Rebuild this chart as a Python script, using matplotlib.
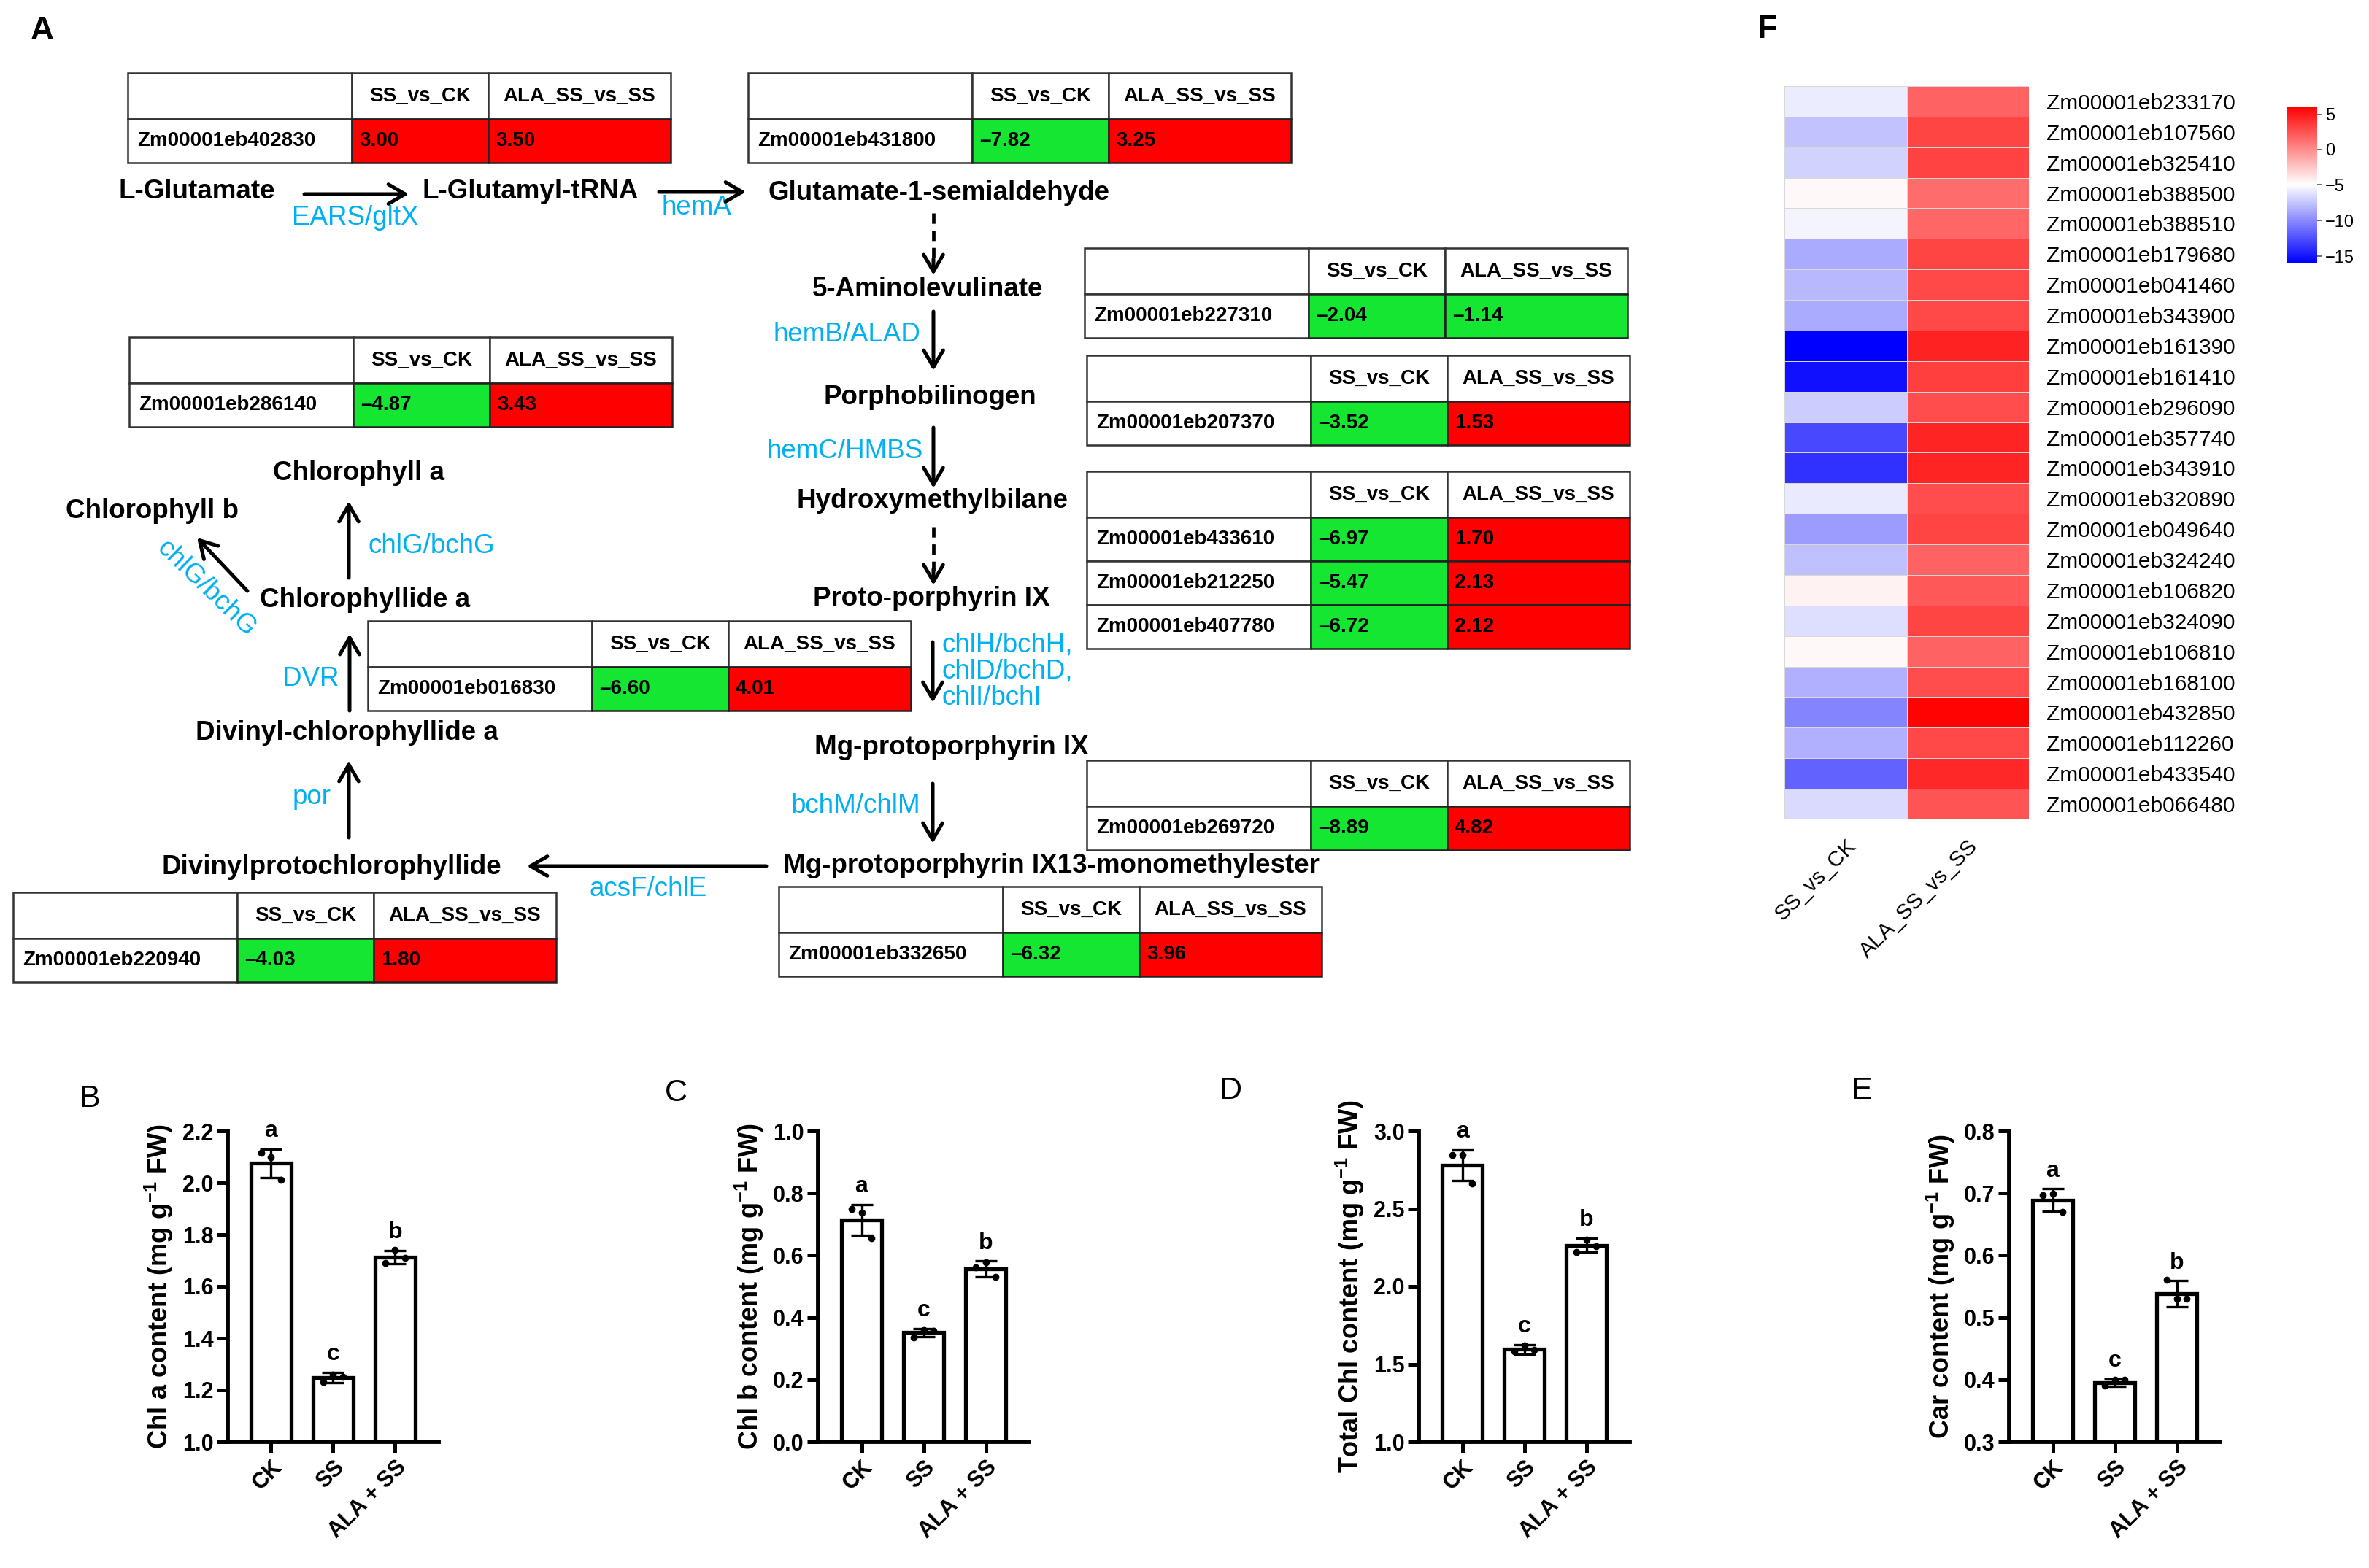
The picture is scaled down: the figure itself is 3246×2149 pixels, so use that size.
import numpy as np
import matplotlib
matplotlib.use('Agg')
import matplotlib.pyplot as plt
from matplotlib.patches import Rectangle
from matplotlib.colors import TwoSlopeNorm
from matplotlib.ticker import FormatStrFormatter

plt.rcParams['font.family'] = ['Liberation Sans', 'DejaVu Sans']
plt.rcParams['mathtext.fontset'] = 'custom'
plt.rcParams['mathtext.rm'] = 'Liberation Sans'
plt.rcParams['mathtext.bf'] = 'Liberation Sans:bold'

# ---------------- panel A: fold-change tables ----------------
table_cols = ['SS_vs_CK', 'ALA_SS_vs_SS']
table_genes = [
    ['Zm00001eb402830'],
    ['Zm00001eb431800'],
    ['Zm00001eb227310'],
    ['Zm00001eb207370'],
    ['Zm00001eb433610', 'Zm00001eb212250', 'Zm00001eb407780'],
    ['Zm00001eb016830'],
    ['Zm00001eb269720'],
    ['Zm00001eb332650'],
    ['Zm00001eb220940'],
    ['Zm00001eb286140'],
]
table_ss = [[3.00], [-7.82], [-2.04], [-3.52], [-6.97, -5.47, -6.72],
            [-6.60], [-8.89], [-6.32], [-4.03], [-4.87]]
table_ala = [[3.50], [3.25], [-1.14], [1.53], [1.70, 2.13, 2.12],
             [4.01], [4.82], [3.96], [1.80], [3.43]]

# ---------------- panel F: heatmap ----------------
heat_cols = ['SS_vs_CK', 'ALA_SS_vs_SS']
heat_genes = ['Zm00001eb233170', 'Zm00001eb107560', 'Zm00001eb325410', 'Zm00001eb388500',
              'Zm00001eb388510', 'Zm00001eb179680', 'Zm00001eb041460', 'Zm00001eb343900',
              'Zm00001eb161390', 'Zm00001eb161410', 'Zm00001eb296090', 'Zm00001eb357740',
              'Zm00001eb343910', 'Zm00001eb320890', 'Zm00001eb049640', 'Zm00001eb324240',
              'Zm00001eb106820', 'Zm00001eb324090', 'Zm00001eb106810', 'Zm00001eb168100',
              'Zm00001eb432850', 'Zm00001eb112260', 'Zm00001eb433540', 'Zm00001eb066480']
heat_ss = [-5.8, -7.6, -6.9, -4.7, -5.5, -8.6, -8.0, -8.6, -15.9, -15.2, -7.2, -12.8,
           -13.8, -5.9, -9.2, -7.7, -4.4, -6.4, -4.7, -8.4, -10.2, -8.4, -11.7, -6.6]
heat_ala = [1.8, 3.1, 3.2, 1.4, 1.6, 3.1, 2.9, 2.9, 4.6, 3.4, 2.8, 4.5,
            4.5, 2.8, 3.1, 1.8, 2.2, 3.1, 1.8, 2.8, 6.0, 2.9, 4.3, 2.4]

# ---------------- panels B-E: pigment contents ----------------
groups = ['CK', 'SS', 'ALA + SS']
letters = ['a', 'c', 'b']
chl_a_mean = [2.075, 1.247, 1.713]
chl_a_sd = [0.055, 0.020, 0.025]
chl_a_pts = [[2.116, 2.10, 2.01], [1.23, 1.26, 1.25], [1.69, 1.74, 1.71]]
chl_b_mean = [0.714, 0.351, 0.556]
chl_b_sd = [0.050, 0.013, 0.025]
chl_b_pts = [[0.749, 0.737, 0.655], [0.336, 0.360, 0.357], [0.561, 0.578, 0.530]]
total_mean = [2.78, 1.595, 2.265]
total_sd = [0.10, 0.03, 0.045]
total_pts = [[2.845, 2.845, 2.66], [1.58, 1.62, 1.59], [2.22, 2.30, 2.26]]
car_mean = [0.689, 0.395, 0.538]
car_sd = [0.018, 0.006, 0.021]
car_pts = [[0.697, 0.699, 0.670], [0.390, 0.400, 0.400], [0.560, 0.530, 0.530]]

W, H = 3246, 2149
fig = plt.figure(figsize=(W / 100, H / 100), dpi=100)
ov = fig.add_axes([0, 0, 1, 1])
ov.set_xlim(0, W)
ov.set_ylim(H, 0)
ov.axis('off')

CYAN = '#00B0F0'
GREEN = '#14E632'
RED = '#FF0000'

# table placement (top-left corner, pixels)
table_pos = [(175, 100), (1025, 100), (1486, 340), (1489, 487), (1489, 646),
             (504, 851), (1489, 1042), (1067, 1215), (18, 1223), (177, 462)]


def fmt(v):
    return f'{v:.2f}'.replace('-', '\u2013')


def draw_table(x0, y0, genes, ss, ala):
    widths = [307, 187, 250]
    hh, rh = 63, 60
    xs = [x0, x0 + widths[0], x0 + widths[0] + widths[1]]
    for j in range(3):
        ov.add_patch(Rectangle((xs[j], y0), widths[j], hh, fc='white', ec='#333333', lw=1.8))
    for j, c in enumerate(table_cols):
        ov.text(xs[j + 1] + widths[j + 1] / 2, y0 + hh / 2, c, ha='center', va='center',
                fontsize=20, fontweight='bold')
    for i, g in enumerate(genes):
        y = y0 + hh + i * rh
        vals = [ss[i], ala[i]]
        ov.add_patch(Rectangle((xs[0], y), widths[0], rh, fc='white', ec='#333333', lw=1.8))
        ov.text(xs[0] + 13, y + rh / 2, g, ha='left', va='center', fontsize=20, fontweight='bold')
        for j, v in enumerate(vals):
            ov.add_patch(Rectangle((xs[j + 1], y), widths[j + 1], rh,
                                   fc=RED if v > 0 else GREEN, ec='#222222', lw=1.8))
            ov.text(xs[j + 1] + 10, y + rh / 2, fmt(v), ha='left', va='center',
                    fontsize=20, fontweight='bold')


for (tx, ty), g, s, a in zip(table_pos, table_genes, table_ss, table_ala):
    draw_table(tx, ty, g, s, a)


def arrow(p0, p1, dashed=False):
    props = dict(arrowstyle='->,head_length=0.55,head_width=0.32', lw=3.6, color='black',
                 shrinkA=0, shrinkB=0, mutation_scale=30)
    if dashed:
        ov.plot([p0[0], p1[0]], [p0[1], p1[1] - 20], color='black', lw=3.4, ls=(0, (3, 2)))
        ov.annotate('', xy=p1, xytext=(p1[0], p1[1] - 22), arrowprops=props)
    else:
        ov.annotate('', xy=p1, xytext=p0, arrowprops=props)


def comp(x, y, s, ha='center'):
    ov.text(x, y, s, ha=ha, va='center', fontsize=26.5, fontweight='bold')


def enz(x, y, s, ha='center', **kw):
    ov.text(x, y, s, ha=ha, va='center', fontsize=26.5, color=CYAN, **kw)


comp(270, 263, 'L-Glutamate')
comp(727, 263, 'L-Glutamyl-tRNA')
comp(1287, 265, 'Glutamate-1-semialdehyde')
comp(1271, 397, '5-Aminolevulinate')
comp(1274, 544, 'Porphobilinogen')
comp(1278, 687, 'Hydroxymethylbilane')
comp(1276, 821, 'Proto-porphyrin IX')
comp(1304, 1024, 'Mg-protoporphyrin IX')
comp(1440, 1187, 'Mg-protoporphyrin IX13-monomethylester')
comp(454, 1188, 'Divinylprotochlorophyllide')
comp(475, 1005, 'Divinyl-chlorophyllide a')
comp(500, 823, 'Chlorophyllide a')
comp(491, 649, 'Chlorophyll a')
comp(208, 701, 'Chlorophyll b')

enz(487, 298, 'EARS/gltX')
enz(954, 285, 'hemA')
enz(1261, 459, 'hemB/ALAD', ha='right')
enz(1265, 618, 'hemC/HMBS', ha='right')
ov.text(1290, 920, 'chlH/bchH,\nchlD/bchD,\nchlI/bchI', ha='left', va='center',
        fontsize=26.5, color=CYAN, linespacing=1.05)
enz(1261, 1104, 'bchM/chlM', ha='right')
enz(888, 1219, 'acsF/chlE')
enz(454, 1092, 'por', ha='right')
enz(465, 930, 'DVR', ha='right')
enz(505, 749, 'chlG/bchG', ha='left')
enz(283, 806, 'chlG/bchG', rotation=-44)

arrow((417, 266), (560, 266))
arrow((903, 263), (1022, 263))
arrow((1279, 292), (1279, 377), dashed=True)
arrow((1279, 427), (1279, 508))
arrow((1279, 586), (1279, 669))
arrow((1279, 722), (1279, 802), dashed=True)
arrow((1278, 880), (1278, 963))
arrow((1278, 1074), (1278, 1156))
arrow((1050, 1187), (722, 1187))
arrow((478, 1148), (478, 1043))
arrow((479, 974), (479, 869))
arrow((478, 792), (478, 687))
arrow((339, 810), (270, 737))

# panel letters
ov.text(42, 42, 'A', fontsize=32, fontweight='bold', va='center', ha='left')
ov.text(2408, 40, 'F', fontsize=32, fontweight='bold', va='center', ha='left')
for lx, ly, lab in [(108, 1506, 'B'), (911, 1498, 'C'), (1671, 1495, 'D'), (2537, 1495, 'E')]:
    ov.text(lx, ly, lab, fontsize=31, va='center', ha='left')

# ---------------- heatmap F ----------------
hm = fig.add_axes([2445 / W, 1 - 1123 / H, 335 / W, 1005 / H])
data = np.column_stack([heat_ss, heat_ala])
norm = TwoSlopeNorm(vmin=-15.9, vcenter=-5, vmax=6.1)
mesh = hm.pcolormesh(data, cmap='bwr', norm=norm, edgecolors='#d8d8d8', linewidth=0.5)
hm.set_ylim(len(heat_genes), 0)
hm.set_yticks(np.arange(len(heat_genes)) + 0.5)
hm.set_yticklabels(heat_genes, fontsize=21.5)
hm.yaxis.tick_right()
hm.set_xticks([0.5, 1.5])
hm.set_xticklabels(heat_cols, rotation=45, ha='right', rotation_mode='anchor', fontsize=21.5)
hm.tick_params(length=0, pad=17, axis='y')
hm.tick_params(length=0, pad=16, axis='x')
for s in hm.spines.values():
    s.set_visible(False)

cax = fig.add_axes([3133 / W, 1 - 360 / H, 42 / W, 214 / H])
cb = fig.colorbar(mesh, cax=cax, ticks=[5, 0, -5, -10, -15])
cb.outline.set_visible(False)
cax.tick_params(labelsize=17, length=5, width=1.2, color='#555555', pad=3)

# ---------------- bar charts B-E ----------------
bar_specs = [
    (312, chl_a_mean, chl_a_sd, chl_a_pts, (1.0, 2.2), np.arange(1.0, 2.21, 0.2), 'Chl a content'),
    (1121, chl_b_mean, chl_b_sd, chl_b_pts, (0.0, 1.0), np.arange(0.0, 1.01, 0.2), 'Chl b content'),
    (1944, total_mean, total_sd, total_pts, (1.0, 3.0), np.arange(1.0, 3.01, 0.5), 'Total Chl content'),
    (2753, car_mean, car_sd, car_pts, (0.3, 0.8), np.arange(0.3, 0.81, 0.1), 'Car content'),
]
jitter = [-0.16, 0.0, 0.16]
x = np.arange(3)
for left, mean, sd, pts, ylim, yt, name in bar_specs:
    ax = fig.add_axes([left / W, 1 - 1976 / H, 289 / W, 426 / H])
    ax.bar(x, mean, width=0.64, color='white', edgecolor='black', linewidth=3.8, zorder=2)
    ax.errorbar(x, mean, yerr=sd, fmt='none', ecolor='black', elinewidth=2.4,
                capsize=11, capthick=2.4, zorder=3)
    for i in range(3):
        ax.scatter(x[i] + np.array(jitter), pts[i], s=36, color='black', zorder=4)
        ax.annotate(letters[i], (x[i], mean[i] + sd[i]), xytext=(0, 7), textcoords='offset points',
                    ha='center', va='bottom', fontsize=23, fontweight='bold')
    ax.set_xlim(-0.7, 2.7)
    ax.set_ylim(*ylim)
    ax.set_yticks(yt)
    ax.yaxis.set_major_formatter(FormatStrFormatter('%.1f'))
    ax.set_xticks(x)
    ax.set_xticklabels(groups, rotation=45, ha='right', rotation_mode='anchor',
                       fontsize=22, fontweight='bold')
    for lab in ax.get_yticklabels():
        lab.set_fontweight('bold')
        lab.set_fontsize(22)
    ax.set_ylabel(name + r' (mg g$^{\mathbf{-1}}$ FW)', fontsize=26, fontweight='bold', labelpad=7)
    for s in ['top', 'right']:
        ax.spines[s].set_visible(False)
    for s in ['left', 'bottom']:
        ax.spines[s].set_linewidth(4.2)
    ax.tick_params(width=3.6, length=11, pad=3)
    ax.set_facecolor('none')

fig.savefig('out.png', dpi=100)
